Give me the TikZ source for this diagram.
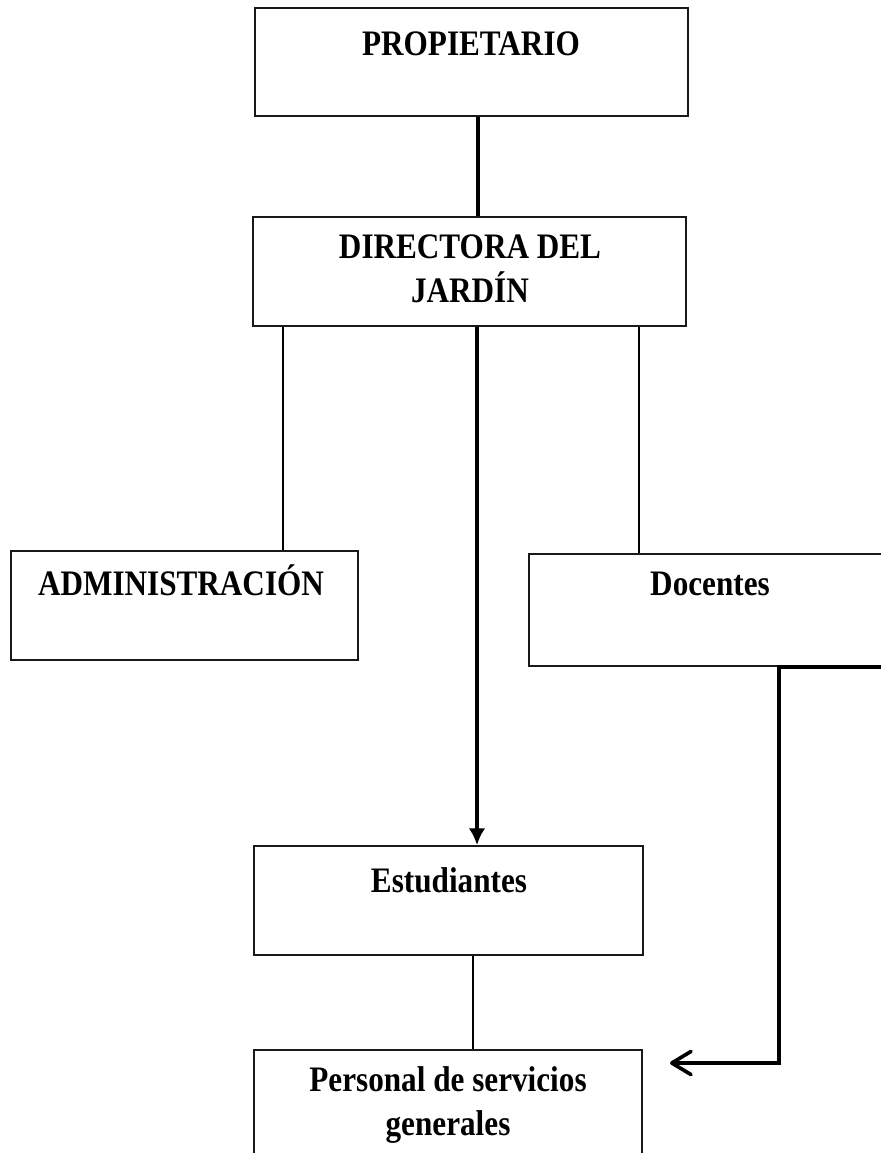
\documentclass[tikz,border=0pt]{standalone}
\usepackage{fontspec}
\setmainfont{Liberation Serif}[FakeStretch=0.87]
\usetikzlibrary{arrows.meta, fit, calc}
\definecolor{boxcol}{RGB}{25,25,25}
\definecolor{linecol}{RGB}{0,0,0}

\begin{document}
\begin{tikzpicture}[
    x=0.025cm, y=-0.025cm,
    >=Latex,
    font=\fontsize{25.5pt}{31pt}\selectfont\bfseries,
    box/.style={draw=boxcol, line width=1.3pt, inner sep=0pt},
    lbl/.style={anchor=base, inner sep=0pt, align=center},
    thinline/.style={linecol, line width=1.4pt},
    thickline/.style={linecol, line width=2.6pt}
  ]

  \useasboundingbox (0,0) rectangle (881,1153);

  % --- coordinates -----------------------------------------------------
  \coordinate (colP) at (478,0);
  \coordinate (colL) at (283,0);
  \coordinate (colM) at (477,0);
  \coordinate (colR) at (639,0);
  \coordinate (colE) at (473,0);
  \coordinate (Bend) at (779,1063);
  \coordinate (Tip)  at (670,1063);

  % --- boxes -----------------------------------------------------------
  \node[box, fit={(255,8) (688,116)}]     (prop) {};
  \node[box, fit={(253,217) (686,326)}]   (dir)  {};
  \node[box, fit={(11,551) (358,660)}]    (adm)  {};
  \node[box, fit={(529,554) (892,666)}]   (doc)  {};
  \node[box, fit={(254,846) (643,955)}]   (est)  {};
  \node[box, fit={(254,1050) (642,1180)}] (pers) {};

  % --- labels ----------------------------------------------------------
  \node[lbl] (propT) at (471,55)   {PROPIETARIO};
  \node[lbl] (dirT)  at (470,302)  {DIRECTORA DEL\\JARDÍN};
  \node[lbl] (admT)  at (181,595)  {ADMINISTRACIÓN};
  \node[lbl] (docT)  at (710,595)  {Docentes};
  \node[lbl] (estT)  at (449,892)  {Estudiantes};
  \node[lbl] (persT) at (448,1135) {Personal de servicios\\generales};

  % --- connectors ------------------------------------------------------
  \draw[thickline] (prop.south -| colP) -- (dir.north -| colP);
  \draw[thinline]  (dir.south -| colL) -- (adm.north -| colL);
  \draw[thickline, -{Latex[length=0.42cm, width=0.42cm]}]
    (dir.south -| colM) -- (est.north -| colM);
  \draw[thinline]  (dir.south -| colR) -- (doc.north -| colR);
  \draw[thinline]  (est.south -| colE) -- (pers.north -| colE);

  % Docentes to Personal, open arrow
  \draw[thickline, -{Straight Barb[length=0.48cm, width=0.58cm, round]}]
    (doc.south east) -| (Bend) -- (Tip);

\end{tikzpicture}
\end{document}
